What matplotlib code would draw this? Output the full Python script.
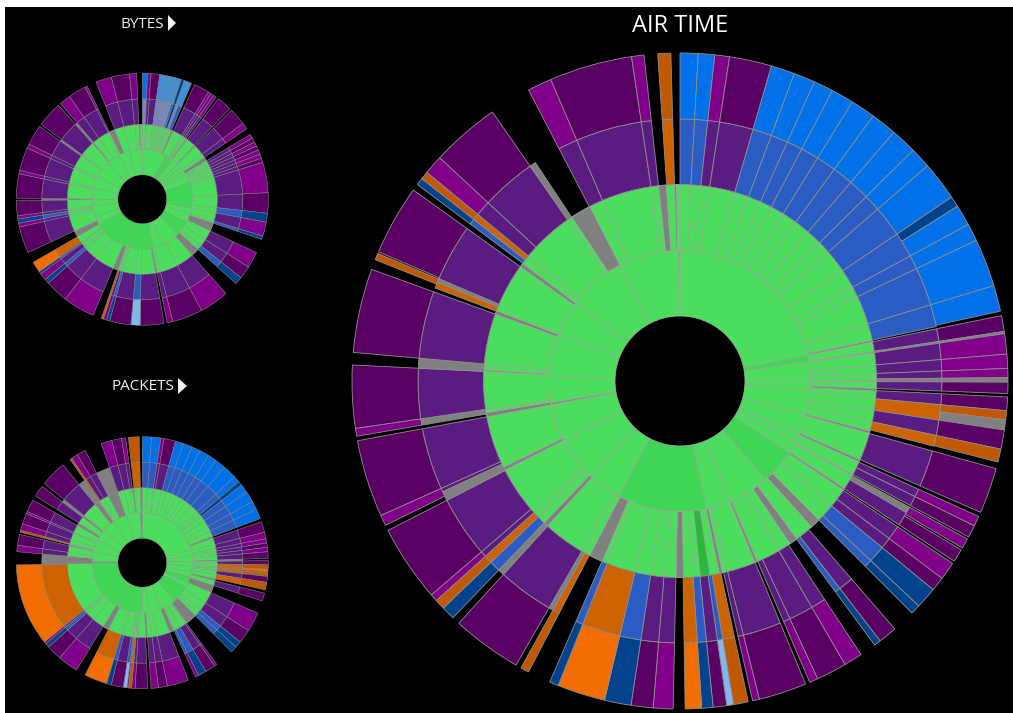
import numpy as np
import matplotlib
matplotlib.use("Agg")
import matplotlib.pyplot as plt
from matplotlib.patches import Rectangle, Polygon

W, H = 1013, 713
palette = {'G': '#4cdd5f', 'D': '#41d555', 'S': '#2bb83a', 'Y': '#808080',
           'P': '#5a1c80', 'K': '#5a0064', 'V': '#80008a', 'B': '#0071e8',
           'M': '#2a5cc4', 'N': '#00438c', 'O': '#f26d00', 'R': '#cc6200',
           'T': '#bf5800', 'L': '#80b8ee', 'A': '#3a90e0', 'W': '#7488c8'}

# Every ring: (cumulative share in degrees, category); '_' is an empty slot
air_r4 = [(3.2,'B'),(6.1,'B'),(8.7,'V'),(16.2,'K'),(20.4,'B'),(24.2,'B'),(27.7,'B'),(31.7,'B'),(36.1,'B'),(40.7,'B'),
          (45.3,'B'),(49,'B'),(55.9,'B'),(57.8,'N'),(61.5,'B'),(64.6,'B'),(73.1,'B'),(77.7,'B'),(78.5,'_'),
          (81.3,'K'),(81.7,'Y'),(85.3,'V'),(87.8,'V'),(89.4,'V'),(90.2,'Y'),(92.2,'K'),(92.8,'_'),(95.2,'K'),(96.8,'T'),
          (98.6,'Y'),(102,'K'),(104.3,'T'),(105.5,'_'),(113.6,'K'),(114.4,'_'),(116.2,'V'),(118.4,'K'),(118.8,'_'),
          (120.6,'V'),(121,'_'),(123.3,'K'),(123.8,'_'),(127,'V'),(129.5,'K'),(133.3,'N'),(135,'N'),(139.1,'_'),
          (142.4,'K'),(143.6,'N'),(146.5,'_'),(149.8,'V'),(155.2,'K'),(156.7,'V'),(157.5,'_'),(166,'K'),(167.2,'V'),(168,'_'),
          (170.6,'T'),(171.8,'L'),(174.2,'K'),(176.2,'N'),(179.1,'O'),(181.2,'_'),(184.7,'V'),(188.6,'K'),(193.3,'N'),
          (201.8,'O'),(203.4,'N'),(207.5,'_'),(209,'T'),(210,'_'),(222.4,'K'),(223.8,'_'),(226.2,'N'),(228,'T'),
          (229.3,'V'),(242.9,'K'),(243.9,'_'),(245.8,'V'),(259.5,'K'),(260.3,'_'),(261.7,'V'),(272.8,'K'),(275,'_'),
          (289.9,'K'),(291.7,'_'),(292.9,'T'),(293.2,'_'),(305.6,'K'),(306.8,'_'),(308.1,'N'),(309.5,'T'),
          (312.9,'V'),(325.1,'K'),(332.5,'_'),(336.8,'V'),(351.5,'K'),(353.7,'V'),(356.1,'_'),(358.4,'T'),(360,'_')]
air_r3 = [(3.2,'M'),(6.1,'M'),(8.7,'P'),(16.2,'P'),(20.4,'M'),(24.2,'M'),(27.7,'M'),(31.7,'M'),(36.1,'M'),(40.7,'M'),
          (45.3,'M'),(49,'M'),(55.9,'M'),(61.5,'M'),(64.6,'M'),(73.1,'M'),(78,'M'),(78.5,'_'),
          (81.3,'P'),(81.7,'Y'),(85.3,'P'),(87.8,'P'),(89.4,'P'),(90.2,'Y'),(92.2,'P'),(92.8,'_'),(95.2,'P'),(98.6,'R'),
          (102,'P'),(104.4,'R'),(105.5,'_'),(113.6,'P'),(114.4,'_'),(116.2,'P'),(118.4,'P'),(118.8,'_'),
          (120.2,'Y'),(123.3,'P'),(123.8,'_'),(127,'P'),(129.5,'P'),(133.3,'M'),(135,'M'),(139.1,'_'),
          (142.4,'P'),(143.6,'M'),(146.5,'_'),(149.8,'P'),(155.2,'P'),(156.7,'P'),(157.5,'_'),(166,'P'),(167.2,'P'),(168,'_'),
          (170.6,'R'),(171.8,'M'),(174.2,'P'),(176.2,'M'),(179.1,'R'),(181.2,'_'),(184.7,'P'),(188.6,'P'),(193.3,'M'),
          (201.8,'R'),(203.4,'M'),(207.5,'_'),(209,'R'),(210,'Y'),(222.4,'P'),(223.8,'Y'),(226.2,'M'),(228,'R'),
          (229.3,'P'),(242.9,'P'),(245,'Y'),(245.8,'P'),(259.5,'P'),(260.3,'_'),(261.7,'Y'),(272.8,'P'),(275,'Y'),
          (289.9,'P'),(290.8,'_'),(292.2,'R'),(293,'Y'),(305.6,'P'),(306.8,'_'),(308.1,'M'),(309.5,'R'),
          (312.9,'P'),(325.1,'P'),(326.5,'Y'),(332.5,'_'),(336.8,'P'),(351.5,'P'),(353.7,'P'),(356.1,'_'),(358.4,'R'),(360,'_')]
air_r2 = [(3.2,'G'),(6.1,'G'),(8.7,'G'),(16.2,'G'),(20.4,'G'),(24.2,'G'),(27.7,'G'),(31.7,'G'),(36.1,'G'),(40.7,'G'),
          (45.3,'G'),(49,'G'),(55.9,'G'),(61.5,'G'),(64.6,'G'),(73.1,'G'),(78,'G'),(78.6,'Y'),
          (81.3,'G'),(81.7,'Y'),(85.3,'G'),(87.8,'G'),(89.8,'G'),(90.2,'Y'),(92.2,'G'),(93,'Y'),(95.1,'G'),(98.6,'G'),
          (102,'G'),(104.8,'G'),(105.5,'Y'),(113.6,'G'),(114.4,'Y'),(118.4,'G'),(118.8,'Y'),(123.1,'G'),(123.8,'Y'),
          (129.5,'G'),(135,'G'),(138,'Y'),(143.5,'G'),(146,'Y'),(149.8,'G'),(156.8,'G'),(157.6,'Y'),(166,'G'),(167.5,'G'),
          (168.5,'Y'),(171.2,'G'),(174.1,'S'),(176,'G'),(179,'G'),(181.2,'Y'),
          (184.7,'G'),(188.6,'G'),(193.3,'G'),(201.8,'G'),(203.3,'G'),(207.4,'Y'),(210,'G'),(222.4,'G'),(223.8,'Y'),
          (226.2,'G'),(228,'G'),(243,'G'),(244,'Y'),(259.5,'G'),(260.7,'Y'),(261.7,'G'),(272.8,'G'),(273.3,'Y'),(275,'G'),
          (289.9,'G'),(291,'Y'),(305.6,'G'),(306.8,'Y'),(309.5,'G'),(325.1,'G'),(326.6,'G'),(332.7,'Y'),(336.8,'G'),
          (351.5,'G'),(353.7,'G'),(356,'Y'),(358.4,'G'),(359,'Y'),(360,'G')]
air_r1 = [(78.5,'G'),(81.4,'D'),(90,'G'),(94,'G'),(105,'G'),(114,'G'),(118,'G'),(123.3,'G'),(139,'D'),(157.4,'G'),
          (168.3,'G'),(208,'D'),(223,'G'),(243,'G'),(259.6,'G'),(260.5,'Y'),(272,'G'),(291.4,'G'),(306.5,'G'),
          (332.4,'G'),(359.5,'G'),(360,'Y')]

# small charts: (cumulative share, outer, middle, green)
bytes_rows = [(2.4,'B','W','G'),(4,'V','P','G'),(8,'K','P','G'),(9.5,'A','W','G'),(11,'A','W','G'),(12.5,'A','W','G'),
              (14,'A','W','G'),(15.5,'A','W','G'),(17,'A','W','G'),(18,'A','M','G'),(19.5,'N','N','G'),(21,'A','W','G'),
              (23,'A','M','G'),(24.5,'_','_','Y'),(31.7,'K','P','G'),(33,'V','P','G'),(34.5,'V','P','G'),(35.9,'V','P','G'),
              (37,'_','_','Y'),(44,'K','P','G'),(45,'_','_','Y'),(53,'K','P','G'),(56,'V','P','G'),(59,'_','_','Y'),
              (61,'V','P','G'),(63,'K','P','G'),(65,'V','P','G'),(67,'K','P','G'),(69,'V','P','G'),(71,'V','P','G'),
              (73,'K','P','G'),(87,'V','P','G'),(96.4,'K','P','G'),(100.5,'N','M','G'),(107,'V','P','G'),(108.6,'N','M','G'),
              (115,'_','_','Y'),(122.6,'V','P','G'),(128.5,'K','P','G'),(132,'N','M','G'),(138.4,'_','_','Y'),
              (152,'V','P','G'),(166,'K','P','G'),(168.6,'V','P','G'),(170,'_','_','Y'),(181,'K','P','G'),(185.2,'L','M','G'),
              (195,'K','P','G'),(196.5,'N','M','G'),(198,'V','P','G'),(199,'R','R','G'),(203,'_','_','Y'),
              (217.7,'V','P','G'),(228.3,'K','P','G'),(230.5,'N','M','G'),(233.8,'V','P','G'),(235,'N','M','G'),
              (240,'O','R','G'),(245,'_','_','Y'),(257.3,'K','P','G'),(259,'V','P','G'),(261,'N','M','G'),(262.5,'V','P','G'),
              (269.5,'K','P','G'),(270.5,'_','Y','Y'),(281.7,'K','P','G'),(283.3,'V','P','G'),(294,'K','P','G'),
              (296,'V','P','G'),(305.4,'K','P','G'),(306.5,'_','Y','G'),(318.3,'K','P','G'),(319.5,'_','Y','Y'),
              (324.7,'V','P','G'),(333,'K','P','G'),(334,'V','P','G'),(338.5,'_','_','Y'),(345.8,'V','P','G'),
              (354.1,'K','P','G'),(357.4,'V','P','G'),(358.5,'_','_','Y'),(360,'_','_','G')]
bytes_r1 = [(28,'G'),(33,'D'),(38,'D'),(45,'G'),(50,'G'),(55,'G'),(60,'G'),(70,'G'),(100,'D'),(107,'G'),(118,'G'),(135,'D'),
            (155,'G'),(167,'G'),(195,'D'),(240,'D'),(250,'G'),(262,'G'),(270,'G'),(283,'G'),(297,'G'),(316,'G'),(332,'G'),
            (345,'G'),(360,'G')]
packets_rows = [(4.2,'B','M','G'),(8.5,'B','M','G'),(10,'V','P','G'),(15.3,'K','P','G'),(19,'B','M','G'),(23.3,'B','M','G'),
                (27.3,'B','M','G'),(31.7,'B','M','G'),(35.7,'B','M','G'),(40.7,'B','M','G'),(47,'B','M','G'),(50,'B','M','G'),
                (52,'N','N','G'),(56,'B','M','G'),(61,'B','M','G'),(65,'B','M','G'),(69.5,'B','M','G'),(71,'_','_','Y'),
                (76,'K','P','G'),(79,'V','P','G'),(81,'V','P','G'),(83,'K','P','G'),(85,'V','P','G'),(88,'K','P','G'),
                (89,'_','Y','Y'),(91,'K','P','G'),(93,'T','R','G'),(94,'O','R','G'),(95,'T','R','G'),(96.3,'T','R','G'),
                (99,'K','P','G'),(102.5,'T','R','G'),(104,'_','_','Y'),(107.7,'K','P','G'),(113.6,'_','_','Y'),
                (122.6,'V','P','G'),(129,'K','P','G'),(132,'N','M','G'),(135,'N','M','G'),(143.8,'_','_','Y'),
                (145,'V','P','G'),(149.7,'K','P','G'),(153.5,'N','M','G'),(155,'V','M','G'),(158.6,'_','_','Y'),
                (168.5,'V','P','G'),(172.6,'K','P','G'),(176,'V','P','G'),(177.5,'_','_','Y'),(183.3,'K','P','G'),
                (184.9,'V','P','G'),(186.4,'T','R','G'),(187,'K','M','G'),(188.7,'L','M','G'),(194.3,'K','P','G'),
                (196.5,'N','M','G'),(207,'O','R','G'),(211.5,'_','_','Y'),(221,'V','P','G'),(228,'K','P','G'),(230,'N','M','G'),
                (231,'V','P','G'),(269,'O','R','G'),(275,'_','Y','Y'),(278,'V','P','G'),(283,'K','P','G'),(284,'_','_','Y'),
                (285,'T','R','G'),(288,'V','P','G'),(293,'K','P','G'),(294,'V','P','G'),(299.8,'K','P','G'),(302,'_','_','Y'),
                (307.3,'K','P','G'),(309,'_','Y','Y'),(321,'K','P','G'),(325,'_','Y','Y'),(326,'T','R','G'),(329,'V','P','G'),
                (333,'K','P','G'),(341,'_','Y','Y'),(346,'V','P','G'),(350.5,'K','P','G'),(352.4,'V','P','G'),(353.6,'_','_','Y'),
                (358.6,'T','R','G'),(360,'_','_','Y')]
packets_r1 = [(75,'G'),(82,'G'),(88,'G'),(94,'G'),(101,'G'),(107,'G'),(114,'D'),(120,'G'),(140,'D'),(157,'G'),(172,'G'),
              (180,'G'),(208,'D'),(270,'D'),(272,'Y'),(284,'G'),(297,'G'),(310,'G'),(325,'G'),(342,'G'),(358,'G'),(360,'Y')]


def ring(ax, ends, cats, r0, r1, lw, edge='#909090'):
    ends = np.asarray(ends, float)
    starts = np.concatenate(([0.0], ends[:-1]))
    for s, e, c in zip(starts, ends, cats):
        if c == '_':
            continue
        ax.bar(np.deg2rad((s + e) / 2), r1 - r0, width=np.deg2rad(e - s), bottom=r0,
               color=palette[c], edgecolor=edge, linewidth=lw, align='center')


def burst(cx, cy, radii):
    R = radii[-1] + 2
    ax = fig.add_axes([(cx - R) / W, 1 - (cy + R) / H, 2 * R / W, 2 * R / H], projection='polar')
    ax.set_theta_zero_location('N')
    ax.set_theta_direction(-1)
    ax.set_ylim(0, R)
    ax.set_axis_off()
    ax.patch.set_alpha(0)
    return ax


fig = plt.figure(figsize=(W / 100, H / 100), dpi=100, facecolor='white')
bg = fig.add_axes([0, 0, 1, 1])
bg.set_xlim(0, W)
bg.set_ylim(H, 0)
bg.set_axis_off()
bg.add_patch(Rectangle((5, 7), W - 5, H - 7, facecolor='black', edgecolor='none'))

f = 'Open Sans'
bg.text(680, 26, 'AIR TIME', color='white', fontsize=17, ha='center', va='center', family=f)
bg.text(142.5, 24.5, 'BYTES', color='#f0f0f0', fontsize=11, ha='center', va='center', family=f)
bg.text(142.5, 387, 'PACKETS', color='#f0f0f0', fontsize=11, ha='center', va='center', family=f)
bg.add_patch(Polygon([(168, 15), (176, 23), (168, 31)], facecolor='#f0f0f0', edgecolor='none'))
bg.add_patch(Polygon([(178, 378), (187, 386), (178, 394)], facecolor='#f0f0f0', edgecolor='none'))

green_edge = '#94b094'
rad = [65, 130.5, 196.5, 262, 328]
ax = burst(680, 381, rad)
for i, rows in enumerate([air_r1, air_r2, air_r3, air_r4]):
    ends, cats = zip(*rows)
    ring(ax, ends, cats, rad[i], rad[i + 1], 0.6, green_edge if i < 2 else '#909090')

rad = [24.5, 50, 75, 100.5, 126]
for cy, rows, inner in [(199.3, bytes_rows, bytes_r1), (562.7, packets_rows, packets_r1)]:
    ax = burst(142.3, cy, rad)
    ends, outer, mid, green = zip(*rows)
    e1, c1 = zip(*inner)
    ring(ax, e1, c1, rad[0], rad[1], 0.35, green_edge)
    ring(ax, ends, green, rad[1], rad[2], 0.35, green_edge)
    ring(ax, ends, mid, rad[2], rad[3], 0.35)
    ring(ax, ends, outer, rad[3], rad[4], 0.35)

fig.savefig('out.png', dpi=100, facecolor='white')
